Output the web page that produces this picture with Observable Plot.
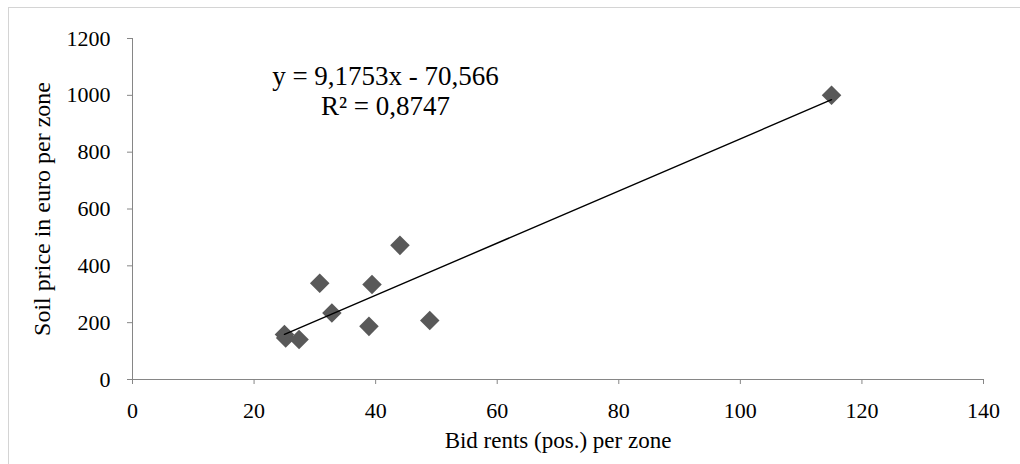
<!DOCTYPE html>
<html><head><meta charset="utf-8">
<script src="https://cdn.jsdelivr.net/npm/d3@7"></script>
<script src="https://cdn.jsdelivr.net/npm/@observablehq/plot@0.6"></script>
<style>
body{margin:0;background:#fff;}
#wrap{position:relative;width:1020px;height:464px;overflow:hidden;background:#fff;}
#border{position:absolute;left:8px;top:7px;width:1100px;height:600px;border:1px solid #d4d4d4;box-sizing:border-box;}
#chart{position:absolute;left:0;top:0;}
#chart svg text{font-family:'Liberation Serif','Times New Roman',serif;}
</style></head><body>
<div id="wrap"><div id="border"></div><div id="chart"></div></div>
<script>
// Data
const bidRents   = [25.0, 25.2, 27.4, 30.8, 32.8, 38.9, 39.4, 44.0, 48.9, 115.0];
const soilPrices = [158, 146, 141, 339, 234, 187, 334, 472, 208, 1000];
const xTicks = [0, 20, 40, 60, 80, 100, 120, 140];
const yTicks = [0, 200, 400, 600, 800, 1000, 1200];
const xTitle = "Bid rents (pos.) per zone";
const yTitle = "Soil price in euro per zone";
const trendSlope = [9.1753];
const trendIntercept = [-70.566];
const trendR2 = [0.8747];
const trendLabels = ["y = 9,1753x - 70,566", "R² = 0,8747"];

const points = bidRents.map((x, i) => ({x, y: soilPrices[i]}));
const xExt = d3.extent(bidRents);
const trend = xExt.map(x => ({x, y: trendSlope[0] * x + trendIntercept[0]}));

const font = "'Liberation Serif', 'Times New Roman', serif";
const chart = Plot.plot({
  width: 1020,
  height: 464,
  marginLeft: 132,
  marginRight: 37,
  marginTop: 38,
  marginBottom: 85,
  x: {domain: [0, 140]},
  y: {domain: [0, 1200]},
  style: {fontFamily: font, fontSize: "22px", color: "#000", background: "transparent"},
  marks: [
    Plot.ruleX([0], {stroke: "#868686", strokeWidth: 1}),
    Plot.ruleY([0], {stroke: "#868686", strokeWidth: 1}),
    Plot.axisX({ticks: xTicks, tickSize: 5, tickPadding: 18, stroke: "#868686", fill: "#000", label: null, fontSize: 22, fontFamily: font, tickFormat: d => String(d)}),
    Plot.axisY({ticks: yTicks, tickSize: 5, tickPadding: 17, stroke: "#868686", fill: "#000", label: null, fontSize: 22, fontFamily: font, tickFormat: d => String(d)}),
    Plot.dot(points, {x: "x", y: "y", symbol: "diamond2", r: 8.8, fill: "#595959", stroke: "none"}),
    Plot.line(trend, {x: "x", y: "y", stroke: "#000", strokeWidth: 1.4}),
    Plot.text([trendLabels.join("\n")], {frameAnchor: "top-left", dx: 253, dy: 52, textAnchor: "middle", lineAnchor: "middle", lineHeight: 1.1, fontSize: 27, fontFamily: font, fill: "#000"}),
    Plot.text([xTitle], {frameAnchor: "bottom", dy: 61, lineAnchor: "middle", fontSize: 23, fontFamily: font, fill: "#000"}),
    Plot.text([yTitle], {frameAnchor: "left", dx: -90, rotate: -90, textAnchor: "middle", lineAnchor: "middle", fontSize: 24, fontFamily: font, fill: "#000"})
  ]
});
document.getElementById("chart").appendChild(chart);
</script>
</body></html>
